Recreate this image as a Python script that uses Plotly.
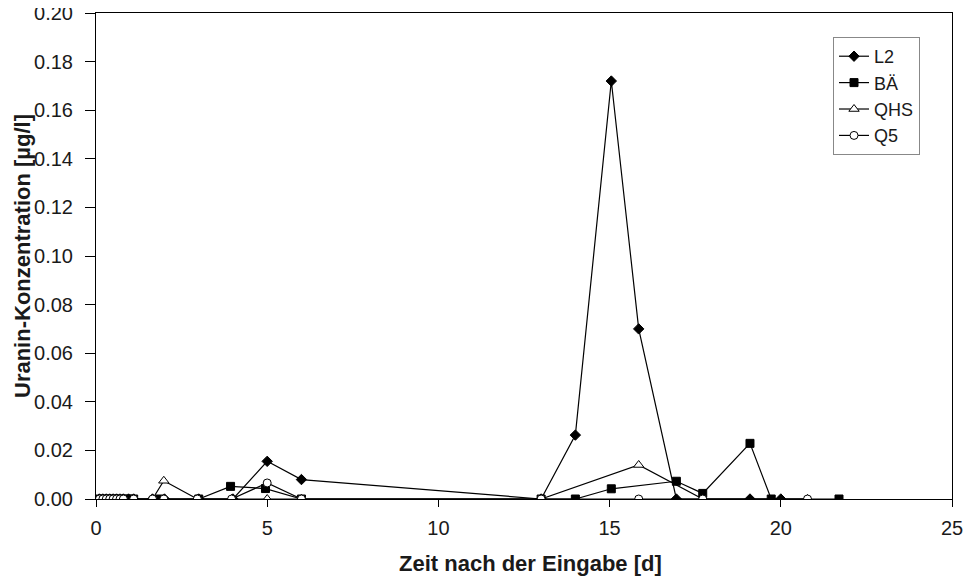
import plotly.graph_objects as go

# Data
L2_x = [0.1, 0.2, 0.3, 0.4, 0.5, 0.6, 0.7, 0.8, 0.95, 1.1, 1.65, 2.0, 3.0, 4.0, 5.0, 6.0, 13.0, 14.0, 15.05, 15.85, 16.95, 19.1, 20.0]
L2_y = [0, 0, 0, 0, 0, 0, 0, 0, 0, 0, 0, 0, 0, 0, 0.0155, 0.008, 0, 0.0263, 0.172, 0.070, 0, 0, 0]

BA_x = [0.1, 0.2, 0.3, 0.4, 0.5, 0.6, 0.7, 0.8, 0.95, 1.1, 1.85, 3.0, 3.93, 4.95, 6.0, 13.0, 14.0, 15.05, 16.95, 17.72, 19.1, 19.72, 21.7]
BA_y = [0, 0, 0, 0, 0, 0, 0, 0, 0, 0, 0, 0, 0.0052, 0.0043, 0, 0, 0, 0.0042, 0.0073, 0.0023, 0.0229, 0, 0]

QHS_x = [0.1, 0.2, 0.3, 0.4, 0.5, 0.6, 0.7, 0.8, 1.1, 1.65, 1.98, 2.96, 3.96, 5.0, 6.0, 13.0, 15.85, 17.72, 20.78]
QHS_y = [0, 0, 0, 0, 0, 0, 0, 0, 0, 0, 0.0075, 0, 0, 0, 0, 0, 0.014, 0, 0]

Q5_x = [0.1, 0.2, 0.3, 0.4, 0.5, 0.6, 0.7, 0.8, 1.1, 1.65, 1.98, 2.96, 3.96, 5.0, 6.0, 13.0, 15.85, 17.72, 20.78]
Q5_y = [0, 0, 0, 0, 0, 0, 0, 0, 0, 0, 0, 0, 0, 0.0066, 0, 0, 0, 0, 0]

y_ticks = [0.00, 0.02, 0.04, 0.06, 0.08, 0.10, 0.12, 0.14, 0.16, 0.18, 0.20]
x_ticks = [0, 5, 10, 15, 20, 25]

x_title = "Zeit nach der Eingabe [d]"
y_title = "Uranin-Konzentration [µg/l]"

FONT = "Liberation Sans, Arial, sans-serif"
TXT = "#1a1a1a"

fig = go.Figure()
series = [
    ("L2", L2_x, L2_y, dict(symbol="diamond", size=8, color="black", line=dict(color="black", width=1))),
    ("BÄ", BA_x, BA_y, dict(symbol="square", size=8, color="black", line=dict(color="black", width=1))),
    ("QHS", QHS_x, QHS_y, dict(symbol="triangle-up", size=9, color="white", line=dict(color="black", width=1))),
    ("Q5", Q5_x, Q5_y, dict(symbol="circle", size=8, color="white", line=dict(color="black", width=1))),
]
for name, xs, ys, mk in series:
    fig.add_trace(go.Scatter(
        x=xs, y=ys, name=name, mode="lines+markers",
        line=dict(color="black", width=1.2), marker=mk,
    ))

# The page body has an 8px margin, so the figure is sized/offset to compensate
fig.update_layout(
    width=964, height=573,
    margin=dict(l=88, r=20, t=5, b=82),
    paper_bgcolor="white", plot_bgcolor="white",
    font=dict(family=FONT, size=20, color=TXT),
    showlegend=True,
    legend=dict(
        x=0.861, y=0.9506, xanchor="left", yanchor="top",
        bgcolor="white", bordercolor="#888", borderwidth=1,
        font=dict(family=FONT, size=18, color=TXT),
        tracegroupgap=0, itemwidth=30,
    ),
    xaxis=dict(
        range=[0, 25], tickvals=x_ticks, ticktext=[str(v) for v in x_ticks],
        showgrid=False, zeroline=False, showline=True, linecolor="black", linewidth=1,
        mirror=True, ticks="outside", ticklen=7, tickcolor="black", automargin=False,
        ticklabelstandoff=4, ticklabeloverflow="allow",
    ),
    yaxis=dict(
        range=[0, 0.2], tickvals=y_ticks, tickformat=".2f",
        showgrid=False, zeroline=False, showline=True, linecolor="black", linewidth=1,
        mirror=True, ticks="outside", ticklen=10, tickcolor="black", automargin=False,
        ticklabelstandoff=8, ticklabeloverflow="allow",
    ),
    annotations=[
        dict(text="<b>" + x_title + "</b>", xref="paper", yref="paper", x=0.508, y=0,
             yshift=-64, xanchor="center", yanchor="middle", showarrow=False,
             font=dict(family=FONT, size=22, color=TXT)),
        dict(text="<b>" + y_title + "</b>", xref="paper", yref="paper", x=0, y=0.5,
             xshift=-74, xanchor="center", yanchor="middle", showarrow=False, textangle=-90,
             font=dict(family=FONT, size=22, color=TXT)),
    ],
)

fig.write_html("out.html")
